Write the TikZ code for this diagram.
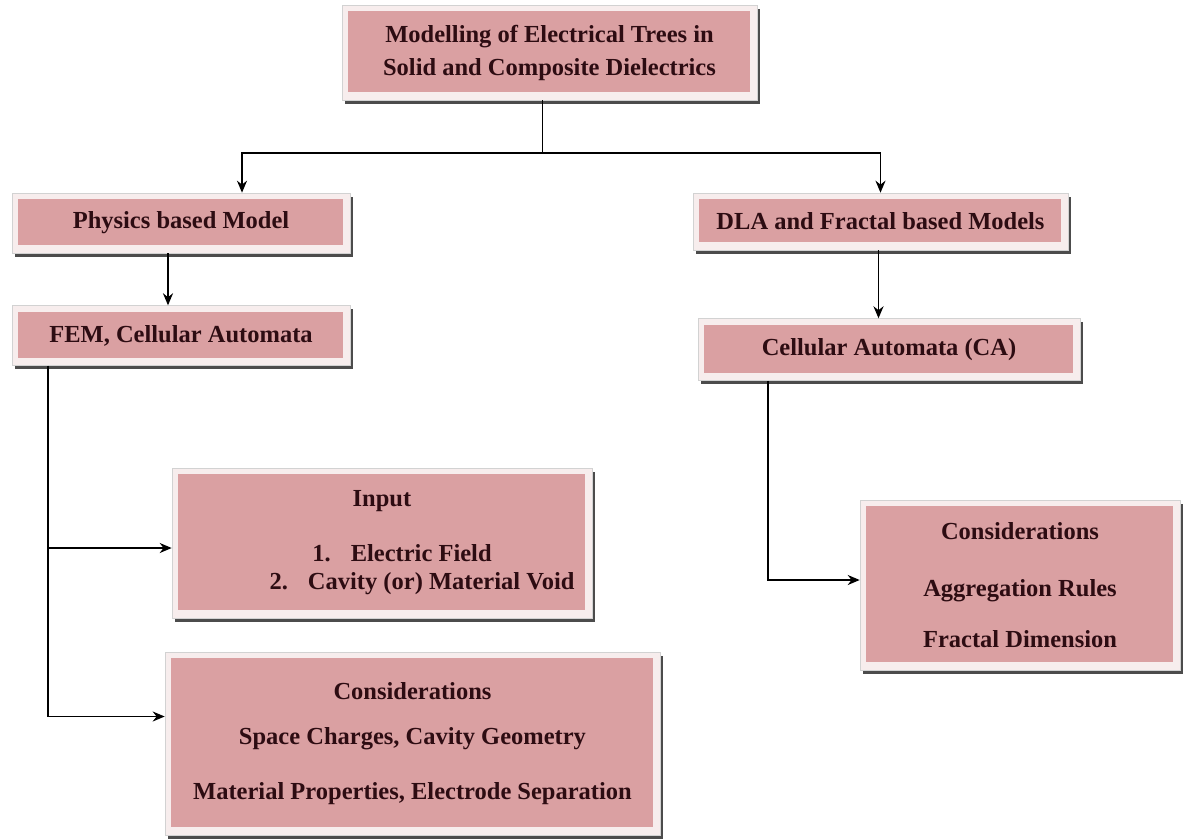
\documentclass[tikz,border=0pt]{standalone}
\usepackage{fontspec}
\setmainfont{Liberation Serif}
\usetikzlibrary{positioning,shadows,arrows.meta}

\definecolor{boxpink}{RGB}{218,160,162}
\definecolor{boxrim}{RGB}{247,237,237}
\definecolor{inktext}{RGB}{45,12,18}
\newcommand{\boxfont}{\fontsize{24.5pt}{33pt}\selectfont\bfseries}

\begin{document}
\begin{tikzpicture}[
    x=1pt, y=-1pt,
    box/.style={rectangle, fill=boxrim, draw=gray!35, line width=0.6pt, inner sep=0pt,
        text=inktext, font=\boxfont, align=center,
        drop shadow={shadow xshift=2.5pt, shadow yshift=-3.5pt, fill=gray!60!black, opacity=1},
        path picture={\fill[boxpink] ([shift={(6pt,-6pt)}]path picture bounding box.north west)
            rectangle ([shift={(-7pt,8pt)}]path picture bounding box.south east);}},
    link/.style={->, >={Stealth[length=12pt,width=10pt]}, line width=1.8pt}
]
\useasboundingbox[fill=white] (0,0) rectangle (1186,839);

% Main topic
\node[box, minimum width=415pt, minimum height=95pt] (top) at (549.5,52.5)
    {Modelling of Electrical Trees in\\Solid and Composite Dielectrics};

% Physics branch
\node[box, minimum width=338pt, minimum height=60pt] (phys) at (181,223) {Physics based Model};
\node[box, minimum width=338pt, minimum height=60pt, below=52pt of phys] (fem) {FEM, Cellular Automata};

% DLA branch
\node[box, minimum width=375pt, minimum height=57pt] (dla) at (880.5,221.5) {DLA and Fractal based Models};
\node[box, minimum width=382pt, minimum height=62pt, below=68pt of dla, xshift=8.5pt] (ca) {Cellular Automata (CA)};

% Inputs and considerations
\node[box, minimum width=420pt, minimum height=150pt, font=\fontsize{24.5pt}{28pt}\selectfont\bfseries] (input) at (382,543)
    {Input\\[27pt]\hspace*{40pt}1.\hspace{20pt}Electric Field\\\hspace*{80pt}2.\hspace{20pt}Cavity (or) Material Void};
\node[box, minimum width=495pt, minimum height=183pt] (consl) at (412.5,743.5)
    {Considerations\\[12pt]Space Charges, Cavity Geometry\\[22pt]Material Properties, Electrode Separation};
\node[box, minimum width=320pt, minimum height=170pt] (consr) at (1020,585)
    {Considerations\\[24pt]Aggregation Rules\\[18pt]Fractal Dimension};

% Arrows
\draw[link] ([xshift=-7pt]top.south) -- ++(0,53) -| ([xshift=61pt]phys.north);
\draw[link] ([xshift=-7pt]top.south) -- ++(0,53) -| (dla.north);
\draw[link] ([xshift=-13pt]phys.south) -- ([xshift=-13pt]fem.north);
\draw[link] ([xshift=-2pt]dla.south) -- ([xshift=-2pt]dla.south |- ca.north);
\draw[link] ([xshift=36pt]fem.south west) |- ([yshift=-5pt]input.west);
\draw[link] ([xshift=36pt]fem.south west) |- ([yshift=27pt]consl.west);
\draw[link] ([xshift=70pt]ca.south west) |- ([yshift=5pt]consr.west);

\end{tikzpicture}
\end{document}
